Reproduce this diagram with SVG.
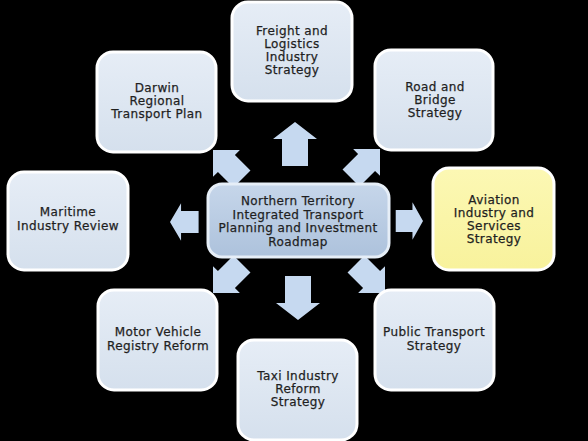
<svg xmlns="http://www.w3.org/2000/svg" width="588" height="441" viewBox="0 0 588 441">
<defs>
<linearGradient id="gBox" x1="0" y1="0" x2="0" y2="1">
<stop offset="0" stop-color="#e6edf6"/>
<stop offset="1" stop-color="#d5e0ed"/>
</linearGradient>
<linearGradient id="gCenter" x1="0" y1="0" x2="0" y2="1">
<stop offset="0" stop-color="#c6d6ea"/>
<stop offset="1" stop-color="#adc2dc"/>
</linearGradient>
<linearGradient id="gAv" x1="0" y1="0" x2="0" y2="1">
<stop offset="0" stop-color="#fcf8b4"/>
<stop offset="1" stop-color="#f8f29c"/>
</linearGradient>
<path id="arr" d="M0,0 L-17,-22 L-17,-13 L-44,-13 L-44,13 L-17,13 L-17,22 Z"/>
<path id="arrD" d="M0,0 L-19,-19 L-19,-12 L-41,-12 L-41,12 L-19,12 L-19,19 Z"/>
</defs>
<style>
.box{fill:url(#gBox);stroke:#ffffff;stroke-width:3}
.ctr{fill:url(#gCenter);stroke:#e6eef7;stroke-width:3}
.av{fill:url(#gAv);stroke:#ffffff;stroke-width:3}
.a{fill:#c6d9f0}
text{font-family:"DejaVu Sans","Liberation Sans",sans-serif;font-size:12px;letter-spacing:0.4px;fill:#1f1f1f;stroke:#1f1f1f;stroke-width:0.25;text-anchor:middle}
</style>
<rect width="588" height="441" fill="#000"/>
<g id="connectors">
<use href="#arr" class="a" transform="translate(295,122) rotate(-90)"/>
<use href="#arr" class="a" transform="translate(298,320) rotate(90)"/>
<use href="#arr" class="a" transform="translate(170,222) rotate(180) scale(0.65,0.85)"/>
<use href="#arr" class="a" transform="translate(423,221) scale(0.62,0.85)"/>
<use href="#arrD" class="a" transform="translate(213,150) rotate(-135)"/>
<use href="#arrD" class="a" transform="translate(380,149) rotate(-45)"/>
<use href="#arrD" class="a" transform="translate(213,293) rotate(135)"/>
<use href="#arrD" class="a" transform="translate(385,293) rotate(45)"/>
</g>
<g id="center">
<rect class="ctr" x="208" y="184" width="181" height="73" rx="14"/>
<text x="298" y="205">Northern Territory</text>
<text x="298" y="218.5">Integrated Transport</text>
<text x="298" y="232">Planning and Investment</text>
<text x="298" y="245.5">Roadmap</text>
</g>
<g id="freight">
<rect class="box" x="232" y="2" width="120" height="99" rx="16"/>
<text x="292" y="35">Freight and</text>
<text x="292" y="48">Logistics</text>
<text x="292" y="61">Industry</text>
<text x="292" y="74">Strategy</text>
</g>
<g id="darwin">
<rect class="box" x="97" y="52" width="119" height="100" rx="16"/>
<text x="157" y="92">Darwin</text>
<text x="157" y="105">Regional</text>
<text x="157" y="118">Transport Plan</text>
</g>
<g id="road">
<rect class="box" x="375" y="50" width="118" height="100" rx="16"/>
<text x="435" y="91">Road and</text>
<text x="435" y="104">Bridge</text>
<text x="435" y="117">Strategy</text>
</g>
<g id="maritime">
<rect class="box" x="8" y="172" width="120" height="98" rx="16"/>
<text x="68" y="216">Maritime</text>
<text x="68" y="230">Industry Review</text>
</g>
<g id="aviation">
<rect class="av" x="433" y="168" width="121" height="102" rx="16"/>
<text x="494" y="204">Aviation</text>
<text x="494" y="217">Industry and</text>
<text x="494" y="230">Services</text>
<text x="494" y="243">Strategy</text>
</g>
<g id="motor">
<rect class="box" x="98" y="290" width="119" height="100" rx="16"/>
<text x="158" y="336">Motor Vehicle</text>
<text x="158" y="350">Registry Reform</text>
</g>
<g id="taxi">
<rect class="box" x="238" y="340" width="119" height="100" rx="16"/>
<text x="298" y="380">Taxi Industry</text>
<text x="298" y="393">Reform</text>
<text x="298" y="406">Strategy</text>
</g>
<g id="public">
<rect class="box" x="375" y="290" width="119" height="100" rx="16"/>
<text x="434" y="336">Public Transport</text>
<text x="434" y="350">Strategy</text>
</g>
</svg>
